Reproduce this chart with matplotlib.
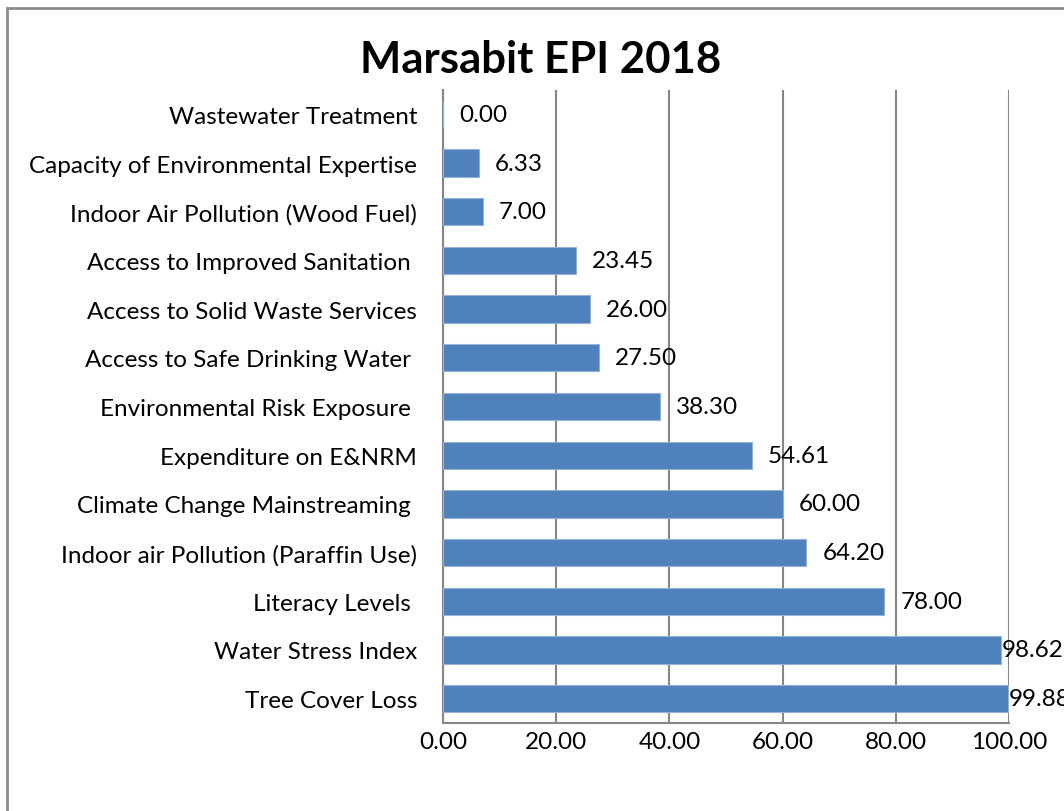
import matplotlib
matplotlib.use("Agg")
import matplotlib.pyplot as plt
from matplotlib.patches import Rectangle

# dados (de baixo para cima)
categories = [
    "Tree Cover Loss",
    "Water Stress Index",
    "Literacy Levels ",
    "Indoor air Pollution (Paraffin Use)",
    "Climate Change Mainstreaming ",
    "Expenditure on E&NRM",
    "Environmental Risk Exposure ",
    "Access to Safe Drinking Water ",
    "Access to Solid Waste Services",
    "Access to Improved Sanitation ",
    "Indoor Air Pollution (Wood Fuel)",
    "Capacity of Environmental Expertise",
    "Wastewater Treatment",
]
values = [99.88, 98.62, 78.00, 64.20, 60.00, 54.61, 38.30, 27.50, 26.00, 23.45, 7.00, 6.33, 0.00]
xticks = [0, 20, 40, 60, 80, 100]

plt.rcParams['font.family'] = ['Lato', 'DejaVu Sans']
fs = 17.5

fig = plt.figure(figsize=(10.64, 8.12), dpi=100)
ax = fig.add_axes([443 / 1064, 1 - 724 / 812, (1009 - 443) / 1064, (724 - 91) / 812])

pos = range(len(categories))
ax.barh(pos, values, height=0.56, color='#4F81BD', edgecolor='#95B3D7',
        linewidth=0.8, zorder=3)

for y, v in zip(pos, values):
    # perto do limite o Excel encosta o rótulo na barra
    off = 11.5 if v < 90 else 0.5
    ax.annotate(f"{v:.2f}", (v, y), xytext=(off, 0), textcoords='offset points',
                ha='left', va='center', fontsize=fs, zorder=4, annotation_clip=False)

ax.set_xlim(0, 100)
ax.set_ylim(-0.5, len(categories) - 0.5)
ax.set_xticks(xticks)
ax.set_xticklabels([f"{t:.2f}" for t in xticks], fontsize=fs)
ax.set_yticks(list(pos))
ax.set_yticklabels(categories, fontsize=fs)
ax.tick_params(axis='both', length=0)
ax.tick_params(axis='x', pad=6)
ax.tick_params(axis='y', pad=18.5)

ax.grid(axis='x', color='#868686', linewidth=1.5, zorder=0)
ax.set_axisbelow(True)
for s in ['top', 'right']:
    ax.spines[s].set_visible(False)
for s in ['left', 'bottom']:
    ax.spines[s].set_color('#868686')
    ax.spines[s].set_linewidth(1.5)

fig.text(541 / 1064, 1 - 60 / 812, "Marsabit EPI 2018", ha='center', va='center',
         fontsize=31.5, fontweight='bold')

# moldura do gráfico
fig.patches.append(Rectangle((7 / 1064, -0.1), 1.1, 1 - 9 / 812 + 0.1,
                             transform=fig.transFigure, fill=False,
                             edgecolor='#8C8C8C', linewidth=2))

fig.savefig("out.png", dpi=100)
